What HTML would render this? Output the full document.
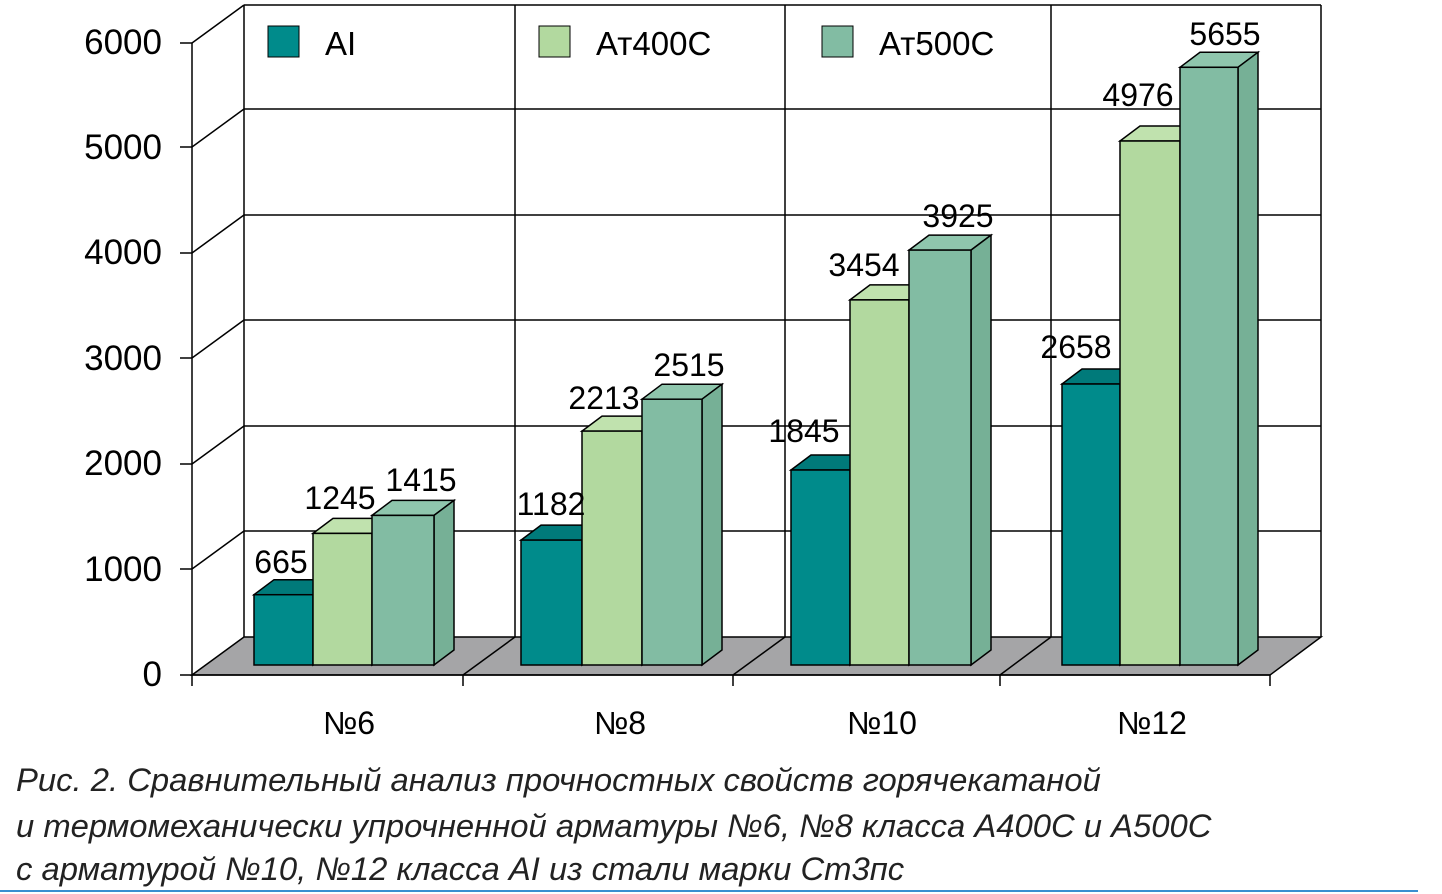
<!DOCTYPE html>
<html><head><meta charset="utf-8"><style>
html,body{margin:0;padding:0;background:#fff;}
svg{display:block;font-family:"Liberation Sans",sans-serif;}
</style></head><body>
<svg width="1442" height="894" viewBox="0 0 1442 894">
<rect width="1442" height="894" fill="#fff"/>
<polygon points="192,675 244,637 1321,637 1270,675" fill="#a5a5a7" stroke="#000" stroke-width="1.5"/>
<g stroke="#000" stroke-width="1.5" fill="none">
<line x1="463" y1="675" x2="515" y2="637"/>
<line x1="733" y1="675" x2="785" y2="637"/>
<line x1="1000" y1="675" x2="1051" y2="637"/>
<line x1="244" y1="5" x2="244" y2="637"/>
<line x1="244" y1="5" x2="1321" y2="5"/>
<line x1="1321" y1="5" x2="1321" y2="637"/>
<line x1="515" y1="5" x2="515" y2="637"/>
<line x1="785" y1="5" x2="785" y2="637"/>
<line x1="1051" y1="5" x2="1051" y2="637"/>
<line x1="244" y1="109" x2="1321" y2="109"/>
<line x1="244" y1="215" x2="1321" y2="215"/>
<line x1="244" y1="320" x2="1321" y2="320"/>
<line x1="244" y1="426" x2="1321" y2="426"/>
<line x1="244" y1="531" x2="1321" y2="531"/>
<line x1="192" y1="43" x2="192" y2="675"/>
<line x1="192" y1="43" x2="244" y2="5"/>
<line x1="192" y1="147" x2="244" y2="109"/>
<line x1="192" y1="253" x2="244" y2="215"/>
<line x1="192" y1="358" x2="244" y2="320"/>
<line x1="192" y1="464" x2="244" y2="426"/>
<line x1="192" y1="569" x2="244" y2="531"/>
<line x1="180" y1="43" x2="192" y2="43"/><line x1="180" y1="147" x2="192" y2="147"/>
<line x1="180" y1="253" x2="192" y2="253"/><line x1="180" y1="358" x2="192" y2="358"/>
<line x1="180" y1="464" x2="192" y2="464"/><line x1="180" y1="569" x2="192" y2="569"/>
<line x1="180" y1="675" x2="1270" y2="675"/>
<line x1="192" y1="675" x2="192" y2="686"/><line x1="463" y1="675" x2="463" y2="686"/>
<line x1="733" y1="675" x2="733" y2="686"/><line x1="1000" y1="675" x2="1000" y2="686"/>
<line x1="1270" y1="675" x2="1270" y2="686"/>
</g>
<g font-size="35" fill="#000" text-anchor="end">
<text x="162" y="54">6000</text><text x="162" y="159">5000</text><text x="162" y="264">4000</text>
<text x="162" y="370">3000</text><text x="162" y="475">2000</text><text x="162" y="581">1000</text>
<text x="162" y="686">0</text>
</g>
<g font-size="32" fill="#000" text-anchor="middle">
<text x="349" y="734">№6</text><text x="620" y="734">№8</text><text x="882" y="734">№10</text><text x="1152" y="734">№12</text>
</g>
<g stroke="#000" stroke-width="1">
<rect x="268" y="26" width="31" height="31" fill="#008b8b"/>
<rect x="539" y="26" width="31" height="31" fill="#b2d99f"/>
<rect x="822" y="26" width="31" height="31" fill="#82bca3"/>
</g>
<g font-size="33" fill="#000">
<text x="325" y="55">AI</text><text x="596" y="55">Ат400С</text><text x="879" y="55">Ат500С</text>
</g>
<g stroke="#000" stroke-width="1.5">
<!-- group 1 -->
<polygon points="254,594.7 274,579.7 333,579.7 313,594.7" fill="#007a7a"/>
<polygon points="313,594.7 333,579.7 333,650 313,665" fill="#007070"/>
<rect x="254" y="594.7" width="59" height="70.3" fill="#008b8b"/>
<polygon points="313,533.4 333,518.4 392,518.4 372,533.4" fill="#c0e2ae"/>
<polygon points="372,533.4 392,518.4 392,650 372,665" fill="#a4cf90"/>
<rect x="313" y="533.4" width="59" height="131.6" fill="#b2d99f"/>
<polygon points="372,515.4 392,500.4 454,500.4 434,515.4" fill="#8fc6ad"/>
<polygon points="434,515.4 454,500.4 454,650 434,665" fill="#76b096"/>
<rect x="372" y="515.4" width="62" height="149.6" fill="#82bca3"/>
<!-- group 2 -->
<polygon points="521,540.1 541,525.1 602,525.1 582,540.1" fill="#007a7a"/>
<polygon points="582,540.1 602,525.1 602,650 582,665" fill="#007070"/>
<rect x="521" y="540.1" width="61" height="124.9" fill="#008b8b"/>
<polygon points="582,431.1 602,416.1 662,416.1 642,431.1" fill="#c0e2ae"/>
<polygon points="642,431.1 662,416.1 662,650 642,665" fill="#a4cf90"/>
<rect x="582" y="431.1" width="60" height="233.9" fill="#b2d99f"/>
<polygon points="642,399.2 662,384.2 722,384.2 702,399.2" fill="#8fc6ad"/>
<polygon points="702,399.2 722,384.2 722,650 702,665" fill="#76b096"/>
<rect x="642" y="399.2" width="60" height="265.8" fill="#82bca3"/>
<!-- group 3 -->
<polygon points="791,470 811,455 870,455 850,470" fill="#007a7a"/>
<polygon points="850,470 870,455 870,650 850,665" fill="#007070"/>
<rect x="791" y="470" width="59" height="195" fill="#008b8b"/>
<polygon points="850,299.9 870,284.9 929,284.9 909,299.9" fill="#c0e2ae"/>
<polygon points="909,299.9 929,284.9 929,650 909,665" fill="#a4cf90"/>
<rect x="850" y="299.9" width="59" height="365.1" fill="#b2d99f"/>
<polygon points="909,250.1 929,235.1 991,235.1 971,250.1" fill="#8fc6ad"/>
<polygon points="971,250.1 991,235.1 991,650 971,665" fill="#76b096"/>
<rect x="909" y="250.1" width="62" height="414.9" fill="#82bca3"/>
<!-- group 4 -->
<polygon points="1062,384 1082,369 1140,369 1120,384" fill="#007a7a"/>
<polygon points="1120,384 1140,369 1140,650 1120,665" fill="#007070"/>
<rect x="1062" y="384" width="58" height="281" fill="#008b8b"/>
<polygon points="1120,141 1140,126 1200,126 1180,141" fill="#c0e2ae"/>
<polygon points="1180,141 1200,126 1200,650 1180,665" fill="#a4cf90"/>
<rect x="1120" y="141" width="60" height="524" fill="#b2d99f"/>
<polygon points="1180,67.3 1200,52.3 1258,52.3 1238,67.3" fill="#8fc6ad"/>
<polygon points="1238,67.3 1258,52.3 1258,650 1238,665" fill="#76b096"/>
<rect x="1180" y="67.3" width="58" height="597.7" fill="#82bca3"/>
</g>
<g font-size="32" fill="#000" text-anchor="middle">
<text x="281" y="573">665</text><text x="340" y="509">1245</text><text x="421" y="491">1415</text>
<text x="551" y="515">1182</text><text x="604" y="409">2213</text><text x="689" y="376">2515</text>
<text x="804" y="442">1845</text><text x="864" y="276">3454</text><text x="958" y="227">3925</text>
<text x="1076" y="358">2658</text><text x="1138" y="106">4976</text><text x="1225" y="45">5655</text>
</g>
<g font-size="32.8" font-style="italic" fill="#222">
<text x="16" y="791">Рис. 2. Сравнительный анализ прочностных свойств горячекатаной</text>
<text x="16" y="837">и термомеханически упрочненной арматуры №6, №8 класса А400С и А500С</text>
<text x="16" y="880">с арматурой №10, №12 класса АI из стали марки Ст3пс</text>
</g>
<line x1="0" y1="891" x2="1418" y2="891" stroke="#3a8fd0" stroke-width="2"/>
</svg>
</body></html>
